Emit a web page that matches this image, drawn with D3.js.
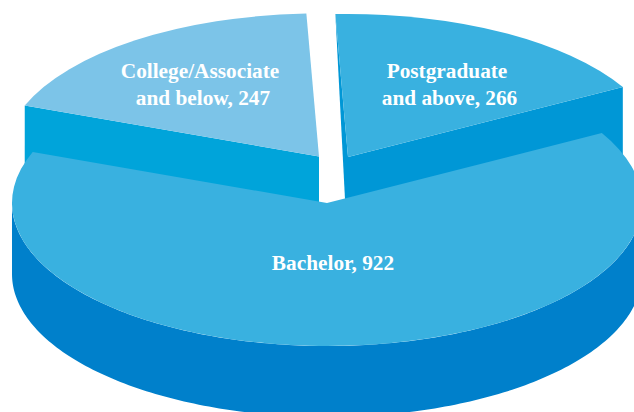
<!DOCTYPE html>
<html>
<head>
<meta charset="utf-8">
<script src="https://cdn.jsdelivr.net/npm/d3@7/dist/d3.min.js"></script>
<style>
html,body{margin:0;padding:0;background:#fff;}
svg{display:block;}
text{font-family:"Liberation Serif","Times New Roman",serif;font-weight:700;fill:#fff;text-anchor:middle;}
</style>
</head>
<body>
<svg id="chart" width="634" height="412"></svg>
<script>
// Data, clockwise from the top of the pie
const categories = ["Postgraduate", "Bachelor", "College"];
const labelLines = [
  ["Postgraduate", "and above, 266"],
  ["Bachelor, 922"],
  ["College/Associate", "and below, 247"]
];
const values = [266, 922, 247];
// Arc sizes: the two small wedges are not drawn in proportion to their labels
const drawnValues = [252, 920, 267];

const topColors = ["#39b1e0", "#39b1e0", "#7cc4e8"];
const wallColors = ["#0097d6", "#0080cb", "#00a4da"];

const W = 634, H = 412;
const rx = 315, ry = 143, depth = 71;
const startDeg = -2.3;
const apexes = [[348, 157], [327, 203], [319, 156.5]];
const labelPos = [[[447, 78], [449.5, 105]], [[333, 270]], [[200, 78], [203, 105]]];

const svg = d3.select("#chart");
const start = startDeg * Math.PI / 180;
const pie = d3.pie().sort(null).startAngle(start).endAngle(start + 2 * Math.PI);
const arcsData = pie(drawnValues).map((d, i) => ({
  ...d, name: categories[i], value: values[i], apex: apexes[i],
  top: topColors[i], wall: wallColors[i], lines: labelLines[i], label: labelPos[i]
}));
const [post, bach, coll] = arcsData;

const rim = (d, a) => [d.apex[0] + rx * Math.sin(a), d.apex[1] - ry * Math.cos(a)];
const poly = d3.line();

// College radial wall
const cA = rim(coll, coll.startAngle);
svg.append("path").attr("fill", coll.wall).attr("d", poly([
  cA, coll.apex, [coll.apex[0], coll.apex[1] + depth], [cA[0], cA[1] + depth]
]) + "Z");

// Postgraduate radial wall, and the sliver on its left
const pE = rim(post, post.endAngle), pS = rim(post, post.startAngle);
svg.append("path").attr("fill", post.wall).attr("d", poly([
  pE, post.apex, [post.apex[0], post.apex[1] + depth], [pE[0], pE[1] + depth]
]) + "Z");
svg.append("path").attr("fill", post.wall).attr("d", poly([
  pS, post.apex, [post.apex[0], post.apex[1] + depth], [post.apex[0] - 1.5, post.apex[1] + depth]
]) + "Z");

// Bachelor outer wall (front half of the rim)
const rimAngles = d3.range(90, 270.5, 1).map(a => a * Math.PI / 180);
const wallArea = d3.area()
  .x(a => rim(bach, a)[0])
  .y0(a => rim(bach, a)[1])
  .y1(a => rim(bach, a)[1] + depth);

const arcGen = d3.arc().innerRadius(0).outerRadius(rx);
const drawTop = d => svg.append("path")
  .attr("fill", d.top)
  .attr("transform", `translate(${d.apex[0]},${d.apex[1]}) scale(1,${ry / rx})`)
  .attr("d", arcGen(d));

drawTop(post);
drawTop(coll);
svg.append("path").attr("fill", bach.wall).attr("d", wallArea(rimAngles));
drawTop(bach);

// Labels
arcsData.forEach(d => {
  d.lines.forEach((t, i) => {
    svg.append("text")
      .attr("x", d.label[i][0]).attr("y", d.label[i][1])
      .attr("font-size", 21.3)
      .text(t);
  });
});
</script>
</body>
</html>
